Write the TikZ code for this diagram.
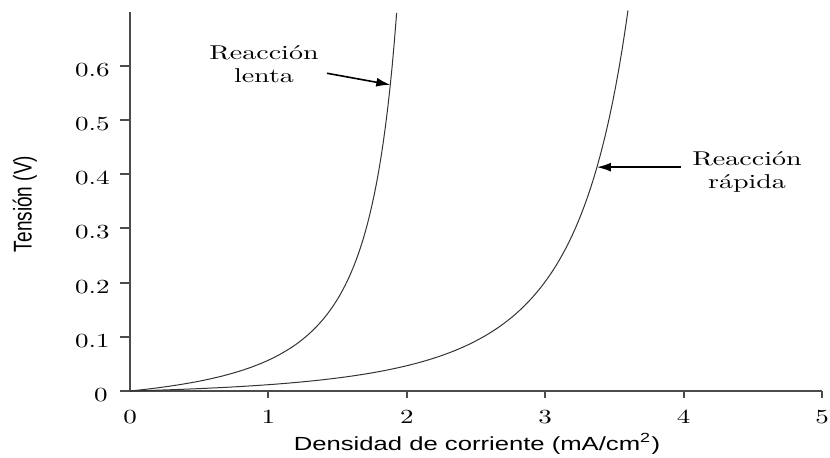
\documentclass[tikz,border=0pt]{standalone}
\usepackage{fontspec}
\usepackage{graphicx}
\newfontfamily\axisfont{Liberation Sans}
\usetikzlibrary{arrows.meta}

% the source figure is stretched sideways
\newcommand{\wtxt}[1]{\scalebox{1.35}[1]{#1}}

\tikzset{
  axis/.style={black!70, line width=1pt},
  curve/.style={black!80, line width=0.5pt},
  pointer/.style={-{Latex[length=7pt,width=4.5pt]}, line width=0.8pt},
  ticklbl/.style={font=\fontsize{10}{12}\selectfont, inner sep=0pt},
  note/.style={font=\fontsize{10}{11.5}\selectfont, align=center, inner sep=1pt},
  title/.style={font=\axisfont\fontsize{9.5}{11}\selectfont, inner sep=0pt},
}

\begin{document}
\begin{tikzpicture}[x=69.2pt, y=271pt]
    \useasboundingbox (-65pt,-33pt) rectangle (350pt,195.5pt);
    % axes
    \draw[axis] (-5pt,0pt) -- (5,0);
    \draw[axis] (0,0) -- (0,0.70);
    \foreach \i in {1,...,5}
        \draw[axis] (\i,0) -- ++(0pt,-3.5pt);
    \foreach \k in {1,...,6}
        \draw[axis] (0,\k/10) -- ++(-5pt,0pt);
    % tick labels
    \foreach \i in {0,...,5}
        \node[ticklbl, anchor=base, yshift=-16pt] (x\i) at (\i,0) {\wtxt{\i}};
    \node[ticklbl, anchor=east, xshift=-11pt, yshift=-2pt] (y0) at (0,0) {\wtxt{0}};
    \foreach \k in {1,...,6}
        \node[ticklbl, anchor=east, xshift=-10pt, yshift=-2pt] (y\k) at (0,\k/10) {\wtxt{0.\k}};
    % axis titles
    \node[title, anchor=base] (xtitle) at (2.507,-0.1089)
        {\wtxt{Densidad de corriente (mA/cm\textsuperscript{2})}};
    \node[title, rotate=90] (ytitle) at (-0.759,0.345)
        {\scalebox{1}[1.35]{Tensión (V)}};
    % slow reaction
    \draw[curve] plot[domain=0:1.927, samples=120]
        (\x, {0.0743*\x/(2.225-\x)^1.31});
    % fast reaction
    \draw[curve] plot[domain=0:3.598, samples=160]
        (\x, {0.1476*\x/(4.47-\x)^2.04});
    % labels
    \node[note] (lenta) at (0.968,0.603)
        {\scalebox{1.4}[1]{Reacción}\\\scalebox{1.4}[1]{lenta}};
    \coordinate (tipL) at (1.881,0.565);
    \draw[pointer, shorten <=3pt] ([yshift=-4pt]lenta.east) -- (tipL);
    \node[note, inner xsep=5.5pt] (rapida) at (4.458,0.404)
        {\scalebox{1.4}[1]{Reacción}\\\scalebox{1.4}[1]{rápida}};
    \coordinate (tipR) at (3.374,0.413);
    \draw[pointer] (rapida.west |- tipR) -- (tipR);
\end{tikzpicture}
\end{document}
